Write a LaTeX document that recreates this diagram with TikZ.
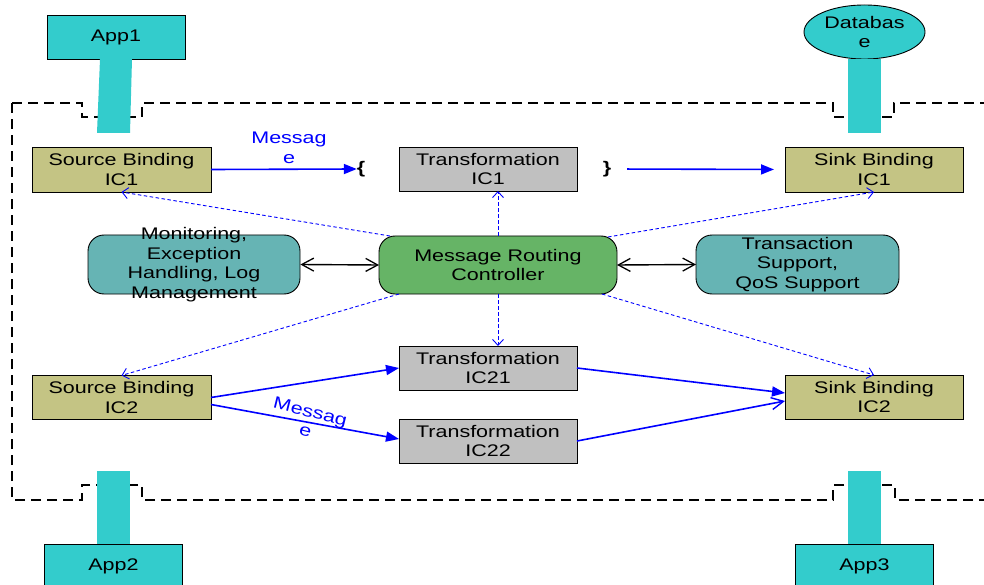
\documentclass[tikz,border=0pt]{standalone}
\usepackage{fontspec}
\setmainfont{Liberation Sans}[FakeStretch=1.28]
\usetikzlibrary{arrows.meta,shapes.geometric,calc}
\definecolor{olivebox}{RGB}{196,196,132}
\definecolor{graybox}{RGB}{192,192,192}
\definecolor{tealbox}{RGB}{102,180,180}
\definecolor{greenbox}{RGB}{102,180,102}
\definecolor{cyanapp}{RGB}{51,204,204}
\tikzset{
  txt/.style={font=\fontsize{16.8}{19.5}\selectfont, align=center, inner sep=0pt, outer sep=0pt},
  box/.style={txt, draw=black, line width=0.9pt, minimum width=178pt, minimum height=44pt},
  bindbox/.style={box, fill=olivebox},
  transbox/.style={box, fill=graybox},
  roundbox/.style={draw=black, line width=0.9pt, rounded corners=16pt, inner sep=0pt, minimum height=59pt},
  appbox/.style={txt, draw=black, line width=0.9pt, fill=cyanapp, minimum width=138pt, minimum height=44pt},
  stem/.style={fill=cyanapp, draw=none},
  boundary/.style={draw=black, line width=2.8pt, dash pattern=on 10pt off 6pt},
  msgarrow/.style={draw=blue, line width=1.6pt, -{Triangle[length=13pt,width=10pt]}},
  msgopen/.style={draw=blue, line width=1.6pt, -{Straight Barb[length=12pt,width=12pt,line width=1.4pt]}},
  ctrl/.style={draw=blue, line width=0.9pt, dash pattern=on 3.5pt off 2.5pt, -{Straight Barb[length=6pt,width=11pt,line width=0.9pt]}},
  dbl/.style={draw=black, line width=1.4pt, {Straight Barb[length=12pt,width=13pt,line width=1.3pt]}-{Straight Barb[length=12pt,width=13pt,line width=1.3pt]}},
  bluetxt/.style={txt, text=blue}
}
\begin{document}
\begin{tikzpicture}[x=1pt,y=-1pt]
\clip (0,0) rectangle (984,585);
\fill[white] (0,0) rectangle (984,585);

% boundary
\draw[boundary] (12,103) -- (82,103) -- (82,117) -- (142,117) -- (142,103) -- (833,103) -- (833,117) -- (894,117) -- (894,103) -- (1010,103) -- (1010,500) -- (895,500) -- (895,485) -- (833,485) -- (833,500) -- (142,500) -- (142,485) -- (82,485) -- (82,500) -- (12,500) -- cycle;

% applications
\node[appbox] (app1) at (116,37) {App1};
\node[txt, ellipse, draw=black, line width=0.9pt, fill=cyanapp, minimum width=121pt, minimum height=54pt] (db) at (864.5,32) {Databas\\e};

% stems
\fill[stem] (100,59) -- (132,59) -- (130,133) -- (97,133) -- cycle;
\fill[stem] (848,59) rectangle (881,133);
\fill[stem] (97,471) rectangle (130,544);
\fill[stem] (848,471) rectangle (881,544);
\node[appbox] (app2) at (113.5,566) {App2};
\node[appbox] (app3) at (864.5,566) {App3};

% top row
\node[bindbox, minimum width=179pt, minimum height=45pt] (sb1) at (121.5,169.5) {Source Binding\\IC1};
\node[transbox] (tic1) at (488,169) {Transformation\\IC1};
\node[bindbox, minimum height=45pt] (sink1) at (874,169.5) {Sink Binding\\IC1};
\node[txt, font=\fontsize{16.8}{19.5}\selectfont\bfseries] (lb) at (361,169) {\{};
\node[txt, font=\fontsize{16.8}{19.5}\selectfont\bfseries] (rb) at (607,169) {\}};
\node[bluetxt] (msg1) at (289,148) {Messag\\e};

% middle row
\node[roundbox, fill=tealbox, minimum width=212pt] (mon) at (194,264.5) {};
\node[txt] (montxt) at (mon.center) {Monitoring,\\Exception\\Handling, Log\\Management};
\node[roundbox, fill=greenbox, minimum width=238pt, minimum height=58pt, txt, draw=black] (mrc) at (498,265) {Message Routing\\Controller};
\node[roundbox, fill=tealbox, minimum width=203pt, txt, draw=black] (tran) at (797.5,264.5) {Transaction\\Support,\\QoS Support};

% bottom rows
\node[bindbox, minimum width=179pt] (sb2) at (121.5,397.5) {Source Binding\\IC2};
\node[transbox] (tic21) at (488,368) {Transformation\\IC21};
\node[transbox] (tic22) at (488,441) {Transformation\\IC22};
\node[bindbox] (sink2) at (874,397) {Sink Binding\\IC2};
\node[bluetxt, rotate=-14] (msg2) at (308,421) {Messag\\e};

% message arrows
\draw[msgarrow] (sb1.east) -- (lb.west);
\draw[msgarrow, shorten <=16pt, shorten >=11pt] (rb.east) -- (sink1.west);
\draw[msgarrow] (sb2.east) -- (tic21.west);
\draw[msgarrow] ($(sb2.east)+(0,7)$) -- ($(tic22.west)+(0,-2)$);
\draw[msgarrow] (tic21.east) -- ($(sink2.west)+(0,-4)$);
\draw[msgopen] (tic22.east) -- ($(sink2.west)+(0,4)$);

% controller links
\draw[dbl] (mon.east) -- (mrc.west);
\draw[dbl] (mrc.east) -- (tran.west);
\draw[ctrl] ($(mrc.north west)+(11,0)$) -- (sb1.south);
\draw[ctrl] (mrc.north) -- (mrc.north |- tic1.south);
\draw[ctrl] ($(mrc.north east)+(-9,1)$) -- (sink1.south);
\draw[ctrl] ($(mrc.south west)+(20,0)$) -- (sb2.north);
\draw[ctrl] (mrc.south) -- (mrc.south |- tic21.north);
\draw[ctrl] ($(mrc.south east)+(-15,0)$) -- (sink2.north);
\end{tikzpicture}
\end{document}
